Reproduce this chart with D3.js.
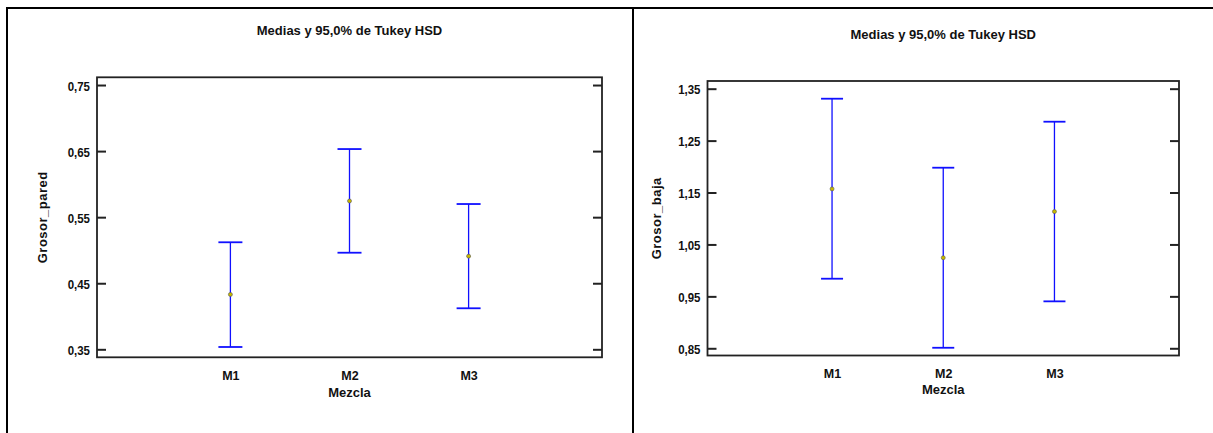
<!DOCTYPE html>
<html>
<head>
<meta charset="utf-8">
<script src="https://cdn.jsdelivr.net/npm/d3@7"></script>
<style>
  html, body { margin: 0; padding: 0; background: #fff; }
  svg text { font-family: "Liberation Sans", Arial, Helvetica, sans-serif; font-weight: bold; fill: #111; }
</style>
</head>
<body>
<div id="chart"></div>
<script>
// data
const categories = ["M1", "M2", "M3"];

const paredMean = [0.433, 0.5745, 0.491];
const paredLow = [0.3535, 0.4962, 0.4121];
const paredHigh = [0.512, 0.6531, 0.5699];
const paredTicks = [0.35, 0.45, 0.55, 0.65, 0.75];

const bajaMean = [1.157, 1.0244, 1.1133];
const bajaLow = [0.984, 0.851, 0.9404];
const bajaHigh = [1.3307, 1.1978, 1.2864];
const bajaTicks = [0.85, 0.95, 1.05, 1.15, 1.25, 1.35];

const titleText = "Medias y 95,0% de Tukey HSD";
const xLabel = "Mezcla";

const width = 1213;
const height = 433;

const esLocale = d3.formatLocale({ decimal: ",", thousands: ".", grouping: [3], currency: ["", "€"] });
const fmt = esLocale.format(".2f");

const svg = d3.select("#chart")
  .append("svg")
  .attr("width", width)
  .attr("height", height);

// outer frame lines
svg.append("path")
  .attr("d", `M7,${height} V8 H${width}`)
  .attr("fill", "none")
  .attr("stroke", "#000")
  .attr("stroke-width", 2);

svg.append("line")
  .attr("x1", 633).attr("x2", 633)
  .attr("y1", 8).attr("y2", height)
  .attr("stroke", "#000")
  .attr("stroke-width", 2);

function drawPanel(cfg) {
  const { left, right, top, bottom } = cfg.box;

  const x = d3.scalePoint().domain(categories).range([left, right]).padding(1.12);
  const y = d3.scaleLinear().domain(cfg.domain).range([bottom, top]);

  const g = svg.append("g");

  g.append("text")
    .attr("x", (left + right) / 2)
    .attr("y", cfg.titleY)
    .attr("text-anchor", "middle")
    .attr("font-size", 13)
    .text(titleText);

  // ticks inside the frame, both sides
  const yAxis = d3.axisLeft(y).tickValues(cfg.ticks).tickFormat(fmt).tickSizeInner(-9).tickSizeOuter(0);
  const yAxisR = d3.axisRight(y).tickValues(cfg.ticks).tickFormat("").tickSizeInner(-9).tickSizeOuter(0);

  const ya = g.append("g").attr("transform", `translate(${left},0)`).call(yAxis);
  const yr = g.append("g").attr("transform", `translate(${right},0)`).call(yAxisR);
  [ya, yr].forEach((a) => {
    a.select(".domain").remove();
    a.selectAll(".tick line").attr("stroke", "#222").attr("stroke-width", 2);
  });
  // narrow-looking tick numbers
  ya.selectAll(".tick text")
    .attr("x", 0)
    .attr("transform", "translate(-7,0) scale(0.85,1)")
    .attr("font-size", 13.5)
    .attr("font-family", null)
    .attr("fill", "#111")
    .attr("dy", "0.38em");

  g.append("rect")
    .attr("x", left).attr("y", top)
    .attr("width", right - left).attr("height", bottom - top)
    .attr("fill", "none")
    .attr("stroke", "#222")
    .attr("stroke-width", 1.8);

  const xAxis = d3.axisBottom(x).tickSize(0).tickPadding(14);
  const xa = g.append("g").attr("transform", `translate(0,${bottom})`).call(xAxis);
  xa.select(".domain").remove();
  xa.selectAll(".tick text")
    .attr("font-size", 12.5)
    .attr("font-family", null)
    .attr("fill", "#111");

  g.append("text")
    .attr("x", x("M2"))
    .attr("y", cfg.xLabelY)
    .attr("text-anchor", "middle")
    .attr("font-size", 13)
    .text(xLabel);

  g.append("text")
    .attr("transform", `translate(${cfg.yLabelX},${(top + bottom) / 2}) rotate(-90)`)
    .attr("text-anchor", "middle")
    .attr("font-size", 13)
    .attr("letter-spacing", 0.5)
    .text(cfg.yLabel);

  const rows = categories.map((c, i) => ({ c, mean: cfg.mean[i], low: cfg.low[i], high: cfg.high[i] }));
  const cap = cfg.capWidth / 2;

  const bars = g.append("g").selectAll("g").data(rows).join("g");
  bars.append("line")
    .attr("x1", (d) => x(d.c)).attr("x2", (d) => x(d.c))
    .attr("y1", (d) => y(d.low)).attr("y2", (d) => y(d.high))
    .attr("stroke", "#1010ff")
    .attr("stroke-width", 1.3);
  bars.selectAll("line.cap")
    .data((d) => [d.low, d.high].map((v) => ({ c: d.c, v })))
    .join("line")
    .attr("class", "cap")
    .attr("x1", (d) => x(d.c) - cap).attr("x2", (d) => x(d.c) + cap)
    .attr("y1", (d) => y(d.v)).attr("y2", (d) => y(d.v))
    .attr("stroke", "#1010ff")
    .attr("stroke-width", 1.8);
  bars.append("circle")
    .attr("cx", (d) => x(d.c))
    .attr("cy", (d) => y(d.mean))
    .attr("r", 2)
    .attr("fill", "#c8b800")
    .attr("stroke", "#555")
    .attr("stroke-width", 0.6);
}

drawPanel({
  box: { left: 97, right: 602, top: 77.3, bottom: 357.3 },
  domain: [0.3379, 0.7617],
  ticks: paredTicks,
  mean: paredMean, low: paredLow, high: paredHigh,
  yLabel: "Grosor_pared",
  titleY: 35,
  xLabelY: 397,
  yLabelX: 47,
  capWidth: 24,
});

drawPanel({
  box: { left: 707.5, right: 1179, top: 81, bottom: 355.5 },
  domain: [0.8361, 1.3648],
  ticks: bajaTicks,
  mean: bajaMean, low: bajaLow, high: bajaHigh,
  yLabel: "Grosor_baja",
  titleY: 39,
  xLabelY: 394,
  yLabelX: 661,
  capWidth: 22,
});
</script>
</body>
</html>
